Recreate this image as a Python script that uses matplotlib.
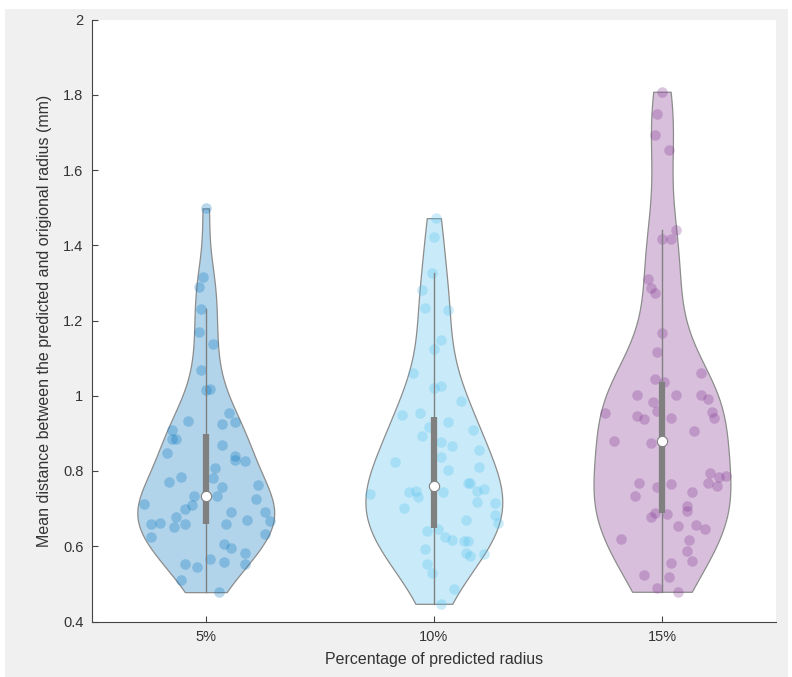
import numpy as np
import matplotlib
matplotlib.use("Agg")
import matplotlib.pyplot as plt
from matplotlib.patches import Rectangle

plt.rcParams['font.family'] = ['Liberation Sans', 'DejaVu Sans']

# categories on the x axis
categories = ['5%', '10%', '15%']

# mean distances (mm)
dist_5 = [1.498, 1.316, 1.290, 1.230, 1.169, 1.138, 1.068, 1.015, 1.017, 0.955,
          0.934, 0.931, 0.909, 0.924, 0.884, 0.886, 0.870, 0.849, 0.841, 0.829,
          0.827, 0.807, 0.783, 0.770, 0.781, 0.757, 0.762, 0.734, 0.734, 0.726,
          0.712, 0.700, 0.709, 0.692, 0.692, 0.677, 0.660, 0.662, 0.660, 0.651,
          0.669, 0.666, 0.658, 0.625, 0.633, 0.606, 0.596, 0.581, 0.552, 0.552,
          0.546, 0.565, 0.558, 0.510, 0.478]
dist_10 = [1.472, 1.423, 1.327, 1.281, 1.232, 1.228, 1.148, 1.123, 1.061, 1.020,
           1.026, 0.986, 0.955, 0.949, 0.931, 0.918, 0.894, 0.909, 0.878, 0.866,
           0.856, 0.838, 0.823, 0.811, 0.803, 0.769, 0.767, 0.739, 0.745, 0.748,
           0.730, 0.743, 0.748, 0.751, 0.718, 0.714, 0.701, 0.683, 0.661, 0.670,
           0.641, 0.645, 0.624, 0.617, 0.614, 0.614, 0.594, 0.583, 0.575, 0.579,
           0.552, 0.528, 0.486, 0.447]
dist_15 = [1.808, 1.748, 1.693, 1.653, 1.441, 1.417, 1.416, 1.310, 1.286, 1.272,
           1.168, 1.117, 1.060, 1.045, 1.036, 1.002, 1.002, 1.002, 0.991, 0.984,
           0.953, 0.960, 0.946, 0.938, 0.942, 0.958, 0.940, 0.906, 0.881, 0.874,
           0.794, 0.785, 0.788, 0.769, 0.760, 0.767, 0.758, 0.765, 0.745, 0.734,
           0.708, 0.694, 0.689, 0.677, 0.686, 0.655, 0.656, 0.647, 0.618, 0.617,
           0.588, 0.561, 0.556, 0.524, 0.519, 0.488, 0.479]

# horizontal jitter of each point (x units)
jit_5 = [0.00, -0.01, -0.03, -0.02, -0.03, 0.03, -0.02, 0.00, 0.02, 0.10,
         -0.08, 0.13, -0.15, 0.07, -0.15, -0.13, 0.07, -0.17, 0.13, 0.13,
         0.17, 0.04, -0.11, -0.16, 0.03, 0.07, 0.23, -0.05, 0.05, 0.22,
         -0.27, -0.09, -0.06, 0.11, 0.26, -0.13, -0.24, -0.20, -0.09, -0.14,
         0.18, 0.28, 0.09, -0.24, 0.26, 0.08, 0.11, 0.17, 0.17, -0.09,
         -0.04, 0.02, 0.08, -0.11, 0.06]
jit_10 = [0.01, 0.00, -0.01, -0.05, -0.04, 0.06, 0.03, 0.00, -0.09, 0.00,
          0.03, 0.12, -0.06, -0.14, 0.06, -0.02, -0.05, 0.17, 0.03, 0.08,
          0.20, 0.03, -0.17, 0.20, 0.06, 0.15, 0.16, -0.28, -0.11, -0.08,
          -0.07, 0.04, 0.19, 0.22, 0.19, 0.27, -0.13, 0.27, 0.28, 0.14,
          -0.03, 0.02, 0.05, 0.08, 0.13, 0.15, -0.04, 0.14, 0.16, 0.22,
          -0.03, -0.01, 0.09, 0.03]
jit_15 = [0.00, -0.02, -0.03, 0.03, 0.06, 0.00, 0.04, -0.06, -0.05, -0.03,
          0.00, -0.02, 0.17, -0.03, 0.01, -0.11, 0.06, 0.17, 0.20, -0.04,
          -0.25, -0.02, -0.11, -0.08, 0.04, 0.22, 0.23, 0.14, -0.21, -0.05,
          0.21, 0.25, 0.28, 0.20, 0.24, -0.10, -0.02, 0.04, 0.13, -0.12,
          0.11, 0.11, -0.03, -0.05, 0.02, 0.07, 0.15, 0.19, -0.18, 0.12,
          0.11, 0.13, 0.04, -0.08, 0.03, -0.02, 0.07]

y_ticks = [0.4, 0.6, 0.8, 1.0, 1.2, 1.4, 1.6, 1.8, 2.0]
y_tick_labels = ['0.4', '0.6', '0.8', '1', '1.2', '1.4', '1.6', '1.8', '2']

colors = [(0.0, 0.447, 0.741), (0.301, 0.745, 0.933), (0.494, 0.184, 0.556)]
datasets = [dist_5, dist_10, dist_15]
jitters = [jit_5, jit_10, jit_15]
positions = [1, 2, 3]


def ksdensity_bw(d):
    # matlab ksdensity style: silverman with robust sigma
    d = np.asarray(d)
    n = len(d)
    sig = np.median(np.abs(d - np.median(d))) / 0.6745
    factor = (4.0 / (3.0 * n)) ** 0.2
    return factor * sig / np.std(d, ddof=1)


fig = plt.figure(figsize=(7.92, 6.77), dpi=100, facecolor='white')
# grey matlab figure panel
fig.patches.append(Rectangle((5 / 792, 0), 783 / 792, 668 / 677, transform=fig.transFigure,
                             facecolor='#f0f0f0', edgecolor='none', zorder=-10))

ax = fig.add_axes([91.7 / 792, 1 - 621.5 / 677, (776 - 91.7) / 792, (621.5 - 19.5) / 677])
ax.set_facecolor('white')

for pos, d, jit, c in zip(positions, datasets, jitters, colors):
    parts = ax.violinplot([d], positions=[pos], widths=0.6, showextrema=False,
                          bw_method=ksdensity_bw(d))
    for body in parts['bodies']:
        body.set_alpha(None)
        body.set_facecolor((*c, 0.3))
        body.set_edgecolor('#8c8c8c')
        body.set_linewidth(0.9)
        body.set_zorder(1)

    ax.scatter(pos + np.array(jit), d, s=58, color=c, alpha=0.28, linewidths=0, zorder=2)

    # box and whiskers
    q1, med, q3 = np.percentile(d, [25, 50, 75])
    iqr = q3 - q1
    arr = np.array(d)
    hi = arr[arr <= q3 + 1.5 * iqr].max()
    lo = arr[arr >= q1 - 1.5 * iqr].min()
    ax.plot([pos, pos], [lo, hi], color='#808080', lw=1.0, zorder=3)
    ax.plot([pos, pos], [q1, q3], color='#808080', lw=4.5, solid_capstyle='butt', zorder=4)
    ax.scatter([pos], [med], s=55, color='white', edgecolors='#808080', linewidths=0.8, zorder=5)

ax.set_xlim(0.5, 3.5)
ax.set_ylim(0.4, 2.0)
ax.set_xticks(positions)
ax.set_xticklabels(categories)
ax.set_yticks(y_ticks)
ax.set_yticklabels(y_tick_labels)

for side in ['top', 'right']:
    ax.spines[side].set_visible(False)
for side in ['left', 'bottom']:
    ax.spines[side].set_color('#444444')
    ax.spines[side].set_linewidth(0.8)
ax.tick_params(direction='in', length=4, width=0.8, color='#444444', labelcolor='#333333',
               labelsize=10.5, pad=6)

ax.set_xlabel('Percentage of predicted radius', fontsize=11.5, color='#333333', labelpad=6)
ax.set_ylabel('Mean distance between the predicted and origional radius (mm)', fontsize=11.5,
              color='#333333', labelpad=8)

fig.savefig('out.png', dpi=100, facecolor=fig.get_facecolor())
